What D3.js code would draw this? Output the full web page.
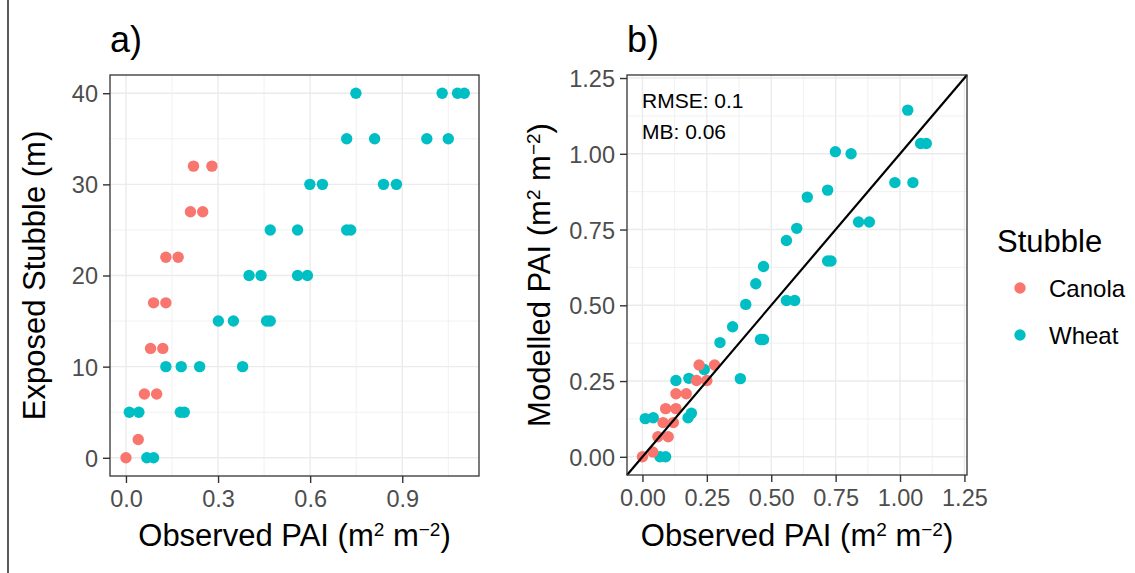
<!DOCTYPE html>
<html>
<head>
<meta charset="utf-8">
<script src="https://cdn.jsdelivr.net/npm/d3@7"></script>
<style>
  body { margin: 0; background: #fff; }
  svg { font-family: "Liberation Sans", Arial, sans-serif; }
</style>
</head>
<body>
<svg id="chart" width="1135" height="573"></svg>
<script>
// ---------- DATA ---------- //
const canolaObs     = [0, 0.04, 0.06, 0.10, 0.08, 0.12, 0.09, 0.13, 0.13, 0.17, 0.21, 0.25, 0.22, 0.28];
const canolaStubble = [0, 2, 7, 7, 12, 12, 17, 17, 22, 22, 27, 27, 32, 32];
const canolaModel   = [0, 0.016, 0.066, 0.066, 0.113, 0.113, 0.159, 0.159, 0.208, 0.208, 0.252, 0.252, 0.303, 0.303];

const wheatObs = [0.068, 0.090,
  0.011, 0.042, 0.177, 0.190,
  0.130, 0.180, 0.240, 0.380,
  0.301, 0.350, 0.458, 0.470,
  0.401, 0.440, 0.559, 0.591,
  0.470, 0.559, 0.719, 0.732,
  0.599, 0.640, 0.839, 0.881,
  0.719, 0.810, 0.980, 1.050,
  0.749, 1.030, 1.080, 1.102];
const wheatStubble = [0, 0,
  5, 5, 5, 5,
  10, 10, 10, 10,
  15, 15, 15, 15,
  20, 20, 20, 20,
  25, 25, 25, 25,
  30, 30, 30, 30,
  35, 35, 35, 35,
  40, 40, 40, 40];
const wheatModel = [0, 0,
  0.126, 0.129, 0.129, 0.144,
  0.252, 0.259, 0.288, 0.258,
  0.377, 0.429, 0.387, 0.387,
  0.503, 0.571, 0.516, 0.516,
  0.628, 0.714, 0.646, 0.646,
  0.754, 0.857, 0.775, 0.775,
  0.880, 1.000, 0.905, 0.905,
  1.007, 1.144, 1.034, 1.034];

const seriesNames = ['Canola', 'Wheat'];
const seriesColors = ['#F8766D', '#00BFC4'];

const aXTicks = [0, 0.3, 0.6, 0.9];
const aXMinor = [0.15, 0.45, 0.75, 1.05];
const aYTicks = [0, 10, 20, 30, 40];
const aYMinor = [5, 15, 25, 35];
const bTicks = [0, 0.25, 0.5, 0.75, 1.0, 1.25];
const bMinor = [0.125, 0.375, 0.625, 0.875, 1.125];

const statLabels = ['RMSE: 0.1', 'MB: 0.06'];

// ---------- SETUP ---------- //
const svg = d3.select('#chart');
svg.append('rect').attr('width', 1135).attr('height', 573).attr('fill', '#fff');

// left edge rule
svg.append('line')
  .attr('x1', 8).attr('x2', 8).attr('y1', 0).attr('y2', 573)
  .attr('stroke', '#000').attr('stroke-width', 1.3);

const color = d3.scaleOrdinal().domain(seriesNames).range(seriesColors);

const canola = canolaObs.map((d, i) => ({obs: d, stub: canolaStubble[i], mod: canolaModel[i], type: 'Canola'}));
const wheat = wheatObs.map((d, i) => ({obs: d, stub: wheatStubble[i], mod: wheatModel[i], type: 'Wheat'}));
const allPts = wheat.concat(canola);

// panel helper: grid + axes
function panel(x, y, xTicks, xMinor, yTicks, yMinor, xFmt, yFmt) {
  const [x0, x1] = x.range();
  const [y0, y1] = y.range();
  const g = svg.append('g');

  // minor grid
  g.selectAll('.vminor').data(xMinor).enter().append('line')
    .attr('x1', d => x(d)).attr('x2', d => x(d)).attr('y1', y0).attr('y2', y1)
    .attr('stroke', '#EBEBEB').attr('stroke-width', 0.7);
  g.selectAll('.hminor').data(yMinor).enter().append('line')
    .attr('y1', d => y(d)).attr('y2', d => y(d)).attr('x1', x0).attr('x2', x1)
    .attr('stroke', '#EBEBEB').attr('stroke-width', 0.7);
  // major grid
  g.selectAll('.vmajor').data(xTicks).enter().append('line')
    .attr('x1', d => x(d)).attr('x2', d => x(d)).attr('y1', y0).attr('y2', y1)
    .attr('stroke', '#EBEBEB').attr('stroke-width', 1.4);
  g.selectAll('.hmajor').data(yTicks).enter().append('line')
    .attr('y1', d => y(d)).attr('y2', d => y(d)).attr('x1', x0).attr('x2', x1)
    .attr('stroke', '#EBEBEB').attr('stroke-width', 1.4);

  // axes
  const xAxis = d3.axisBottom(x).tickValues(xTicks).tickFormat(xFmt).tickSizeInner(7).tickSizeOuter(0).tickPadding(6);
  const yAxis = d3.axisLeft(y).tickValues(yTicks).tickFormat(yFmt).tickSizeInner(7).tickSizeOuter(0).tickPadding(5);

  const ax = g.append('g').attr('transform', `translate(0,${y0})`).call(xAxis);
  const ay = g.append('g').attr('transform', `translate(${x0},0)`).call(yAxis);
  [ax, ay].forEach(a => {
    a.select('.domain').remove();
    a.selectAll('line').attr('stroke', '#333').attr('stroke-width', 1.4);
    a.selectAll('text').attr('fill', '#4D4D4D').style('font-size', '23.5px');
  });
  ax.selectAll('text').attr('dy', '0.75em');
  ay.selectAll('text').attr('dy', '0.36em');

  return g;
}

function drawPoints(g, x, y, yKey) {
  g.selectAll('circle').data(allPts).enter().append('circle')
    .attr('cx', d => x(d.obs))
    .attr('cy', d => y(d[yKey]))
    .attr('r', 5.7)
    .attr('fill', d => color(d.type));
}

function border(g, x, y) {
  const [x0, x1] = x.range();
  const [y0, y1] = y.range();
  g.append('rect')
    .attr('x', x0).attr('y', y1).attr('width', x1 - x0).attr('height', y0 - y1)
    .attr('fill', 'none').attr('stroke', '#333').attr('stroke-width', 1.3);
}

// superscript axis label: <prefix> PAI (m^2 m^-2)
function paiLabel(sel, prefix) {
  sel.append('tspan').text(prefix + ' PAI (m');
  sel.append('tspan').text('2').attr('baseline-shift', '55%').style('font-size', '19px');
  sel.append('tspan').text(' m');
  sel.append('tspan').text('\u22122').attr('baseline-shift', '55%').style('font-size', '19px');
  sel.append('tspan').text(')');
}

// ---------- PANEL A ---------- //
const xA = d3.scaleLinear().domain([-0.052, 1.150]).range([110, 479]);
const yA = d3.scaleLinear().domain([-2, 42]).range([476, 75]);
const gA = panel(xA, yA, aXTicks, aXMinor, aYTicks, aYMinor, d3.format('.1f'), d3.format('d'));
drawPoints(gA, xA, yA, 'stub');
border(gA, xA, yA);

svg.append('text').attr('x', 110).attr('y', 52).style('font-size', '36px').attr('fill', '#000').text('a)');

paiLabel(svg.append('text')
  .attr('x', (110 + 479) / 2).attr('y', 546)
  .attr('text-anchor', 'middle').style('font-size', '31px').attr('fill', '#000'), 'Observed');

svg.append('text')
  .attr('transform', `translate(45,${(75 + 476) / 2}) rotate(-90)`)
  .attr('text-anchor', 'middle').style('font-size', '31px').attr('fill', '#000')
  .text('Exposed Stubble (m)');

// ---------- PANEL B ---------- //
const xB = d3.scaleLinear().domain([-0.06, 1.26]).range([627, 967]);
const yB = d3.scaleLinear().domain([-0.06, 1.26]).range([475, 75]);
const gB = panel(xB, yB, bTicks, bMinor, bTicks, bMinor, d3.format('.2f'), d3.format('.2f'));
drawPoints(gB, xB, yB, 'mod');

// 1:1 line across the panel
gB.append('line')
  .attr('x1', xB(-0.06)).attr('y1', yB(-0.06))
  .attr('x2', xB(1.26)).attr('y2', yB(1.26))
  .attr('stroke', '#000').attr('stroke-width', 2.2);
border(gB, xB, yB);

gB.selectAll('.stat').data(statLabels).enter().append('text')
  .attr('x', 642).attr('y', (d, i) => 108 + i * 31)
  .style('font-size', '21px').attr('fill', '#000')
  .text(d => d);

svg.append('text').attr('x', 627).attr('y', 52).style('font-size', '36px').attr('fill', '#000').text('b)');

paiLabel(svg.append('text')
  .attr('x', (627 + 967) / 2).attr('y', 546)
  .attr('text-anchor', 'middle').style('font-size', '31px').attr('fill', '#000'), 'Observed');

paiLabel(svg.append('text')
  .attr('transform', `translate(550,${(75 + 475) / 2}) rotate(-90)`)
  .attr('text-anchor', 'middle').style('font-size', '31px').attr('fill', '#000'), 'Modelled');

// ---------- LEGEND ---------- //
const legend = svg.append('g');
legend.append('text').attr('x', 997).attr('y', 252)
  .style('font-size', '31px').attr('fill', '#000').text('Stubble');

const items = legend.selectAll('.item').data(seriesNames).enter().append('g')
  .attr('transform', (d, i) => `translate(1020,${288 + i * 47})`);
items.append('circle').attr('r', 5.7).attr('fill', d => color(d));
items.append('text').attr('x', 29).attr('dy', '0.36em')
  .style('font-size', '24px').attr('fill', '#000').text(d => d);
</script>
</body>
</html>
